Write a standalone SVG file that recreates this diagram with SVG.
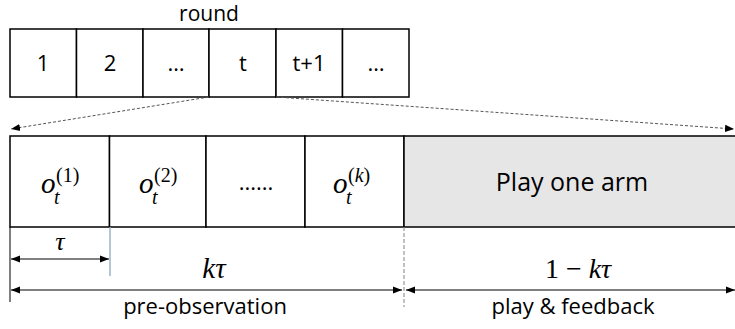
<svg xmlns="http://www.w3.org/2000/svg" width="735" height="329" viewBox="0 0 735 329">
<defs>
<marker id="ah" viewBox="0 0 10 10" refX="10" refY="5" markerWidth="9" markerHeight="9" markerUnits="userSpaceOnUse" orient="auto-start-reverse">
<path d="M0,1 L10,5 L0,9 z" fill="#000"/>
</marker>
<style>
.cell{fill:#fff;stroke:#000;stroke-width:1.5}
.gray{fill:#e7e6e6;stroke:#000;stroke-width:1.5}
.t{font-family:"Open Sans","Liberation Sans",Arial,sans-serif;fill:#000;text-anchor:middle}
.m{font-family:"Liberation Serif","Times New Roman",serif;font-style:italic;fill:#000}
.mu{font-family:"Liberation Serif","Times New Roman",serif;fill:#000}
.dim{stroke:#000;stroke-width:1;fill:none}
.dash{stroke:#555;stroke-width:1;stroke-dasharray:3,2;fill:none}
</style>
</defs>
<text class="t" x="209" y="21" font-size="21">round</text>
<g id="rounds">
<g id="r1"><rect class="cell" x="10" y="29" width="66.5" height="68"/><text class="t" x="43" y="71" font-size="22">1</text></g>
<g id="r2"><rect class="cell" x="76.5" y="29" width="66.5" height="68"/><text class="t" x="110" y="71" font-size="22">2</text></g>
<g id="r3"><rect class="cell" x="143" y="29" width="66" height="68"/><text class="t" x="176" y="71" font-size="22">…</text></g>
<g id="rt"><rect class="cell" x="209" y="29" width="67" height="68"/><text class="t" x="243" y="71" font-size="22">t</text></g>
<g id="rt1"><rect class="cell" x="276" y="29" width="66.5" height="68"/><text class="t" x="309" y="71" font-size="22">t+1</text></g>
<g id="r6"><rect class="cell" x="342.5" y="29" width="66.5" height="68"/><text class="t" x="376" y="71" font-size="22">…</text></g>
</g>
<g id="obs1"><rect class="cell" x="10" y="136" width="99.5" height="91"/>
<text class="m" x="41" y="193" font-size="29">o</text><text class="m" x="54" y="204" font-size="20">t</text><text class="mu" x="56" y="182" font-size="20">(1)</text></g>
<g id="obs2"><rect class="cell" x="109.5" y="136" width="96.5" height="91"/>
<text class="m" x="139" y="193" font-size="29">o</text><text class="m" x="152" y="204" font-size="20">t</text><text class="mu" x="154" y="182" font-size="20">(2)</text></g>
<g id="obs3"><rect class="cell" x="206" y="136" width="99" height="91"/>
<text class="t" x="256" y="190" font-size="22">......</text></g>
<g id="obsk"><rect class="cell" x="305" y="136" width="99" height="91"/>
<text class="m" x="333" y="193" font-size="29">o</text><text class="m" x="346" y="204" font-size="20">t</text><text class="mu" x="348" y="182" font-size="20">(<tspan font-style="italic">k</tspan>)</text></g>
<g id="play"><rect class="gray" x="404" y="136" width="340" height="91"/>
<text class="t" x="572" y="191" font-size="25">Play one arm</text></g>
<g id="connectors">
<line class="dash" x1="209" y1="97" x2="11" y2="129" marker-end="url(#ah)"/>
<line class="dash" x1="276" y1="97" x2="734" y2="129" marker-end="url(#ah)"/>
<line class="dim" x1="10" y1="227" x2="10" y2="302"/>
<line x1="110" y1="227" x2="110" y2="276" stroke="#9fb3c8" stroke-width="1.5"/>
<line x1="404" y1="227" x2="404" y2="307" stroke="#999" stroke-width="1.2" stroke-dasharray="4,2"/>
<line class="dim" x1="11" y1="259" x2="109" y2="259" marker-start="url(#ah)" marker-end="url(#ah)"/>
<line class="dim" x1="11" y1="290" x2="402" y2="290" marker-start="url(#ah)" marker-end="url(#ah)"/>
<line class="dim" x1="406" y1="290" x2="735" y2="290" marker-start="url(#ah)" marker-end="url(#ah)"/>
</g>
<text class="m" x="60" y="250" font-size="26" text-anchor="middle">τ</text>
<text class="m" x="214" y="278" font-size="29" text-anchor="middle">kτ</text>
<text class="mu" x="578" y="278" font-size="28" text-anchor="middle">1 − <tspan font-style="italic">kτ</tspan></text>
<text class="t" x="205" y="314" font-size="22">pre-observation</text>
<text class="t" x="573" y="314" font-size="22">play &amp; feedback</text>
</svg>
